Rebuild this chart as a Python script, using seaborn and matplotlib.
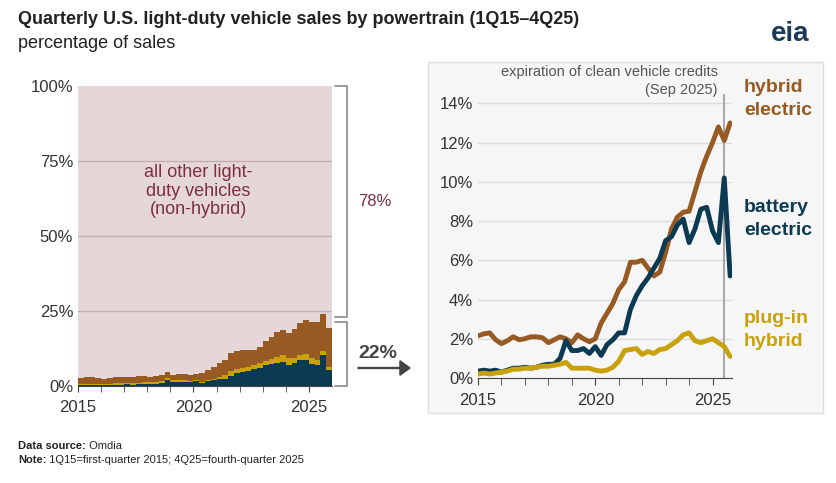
import numpy as np
import pandas as pd
import matplotlib
matplotlib.use("Agg")
import matplotlib.pyplot as plt
from matplotlib.patches import Rectangle
import seaborn as sns

sns.set_style("white")
plt.rcParams['font.family'] = ['Liberation Sans', 'DejaVu Sans']

# quarterly shares (%), 1Q15-4Q25
hybrid = [2.15, 2.25, 2.3, 1.95, 1.75, 1.9, 2.1, 1.95, 2.0, 2.1, 2.1, 2.05,
          1.8, 1.95, 2.1, 2.0, 1.8, 2.2, 2.0, 1.85, 2.0, 2.8, 3.3, 3.8,
          4.5, 4.9, 5.9, 5.9, 6.0, 5.6, 5.2, 5.4, 6.4, 7.6, 8.2, 8.45,
          8.5, 9.5, 10.5, 11.3, 12.0, 12.8, 12.1, 13.0]
battery = [0.35, 0.4, 0.35, 0.4, 0.3, 0.4, 0.5, 0.5, 0.55, 0.5, 0.55, 0.65,
           0.7, 0.7, 1.0, 1.9, 1.4, 1.4, 1.5, 1.25, 1.6, 1.15, 1.7, 1.95,
           2.3, 2.3, 3.5, 4.2, 4.7, 5.1, 5.6, 6.1, 7.0, 7.2, 7.8, 8.1,
           6.9, 7.6, 8.6, 8.7, 7.5, 6.9, 10.2, 5.2]
plugin = [0.2, 0.25, 0.2, 0.25, 0.3, 0.35, 0.45, 0.45, 0.5, 0.5, 0.55, 0.6,
          0.6, 0.65, 0.7, 0.8, 0.5, 0.5, 0.5, 0.5, 0.4, 0.35, 0.4, 0.55,
          0.85, 1.4, 1.45, 1.5, 1.2, 1.35, 1.25, 1.45, 1.5, 1.7, 1.9, 2.2,
          2.3, 1.9, 1.8, 1.9, 2.0, 1.8, 1.6, 1.1]
quarter = 2015 + np.arange(len(hybrid)) / 4

df = pd.DataFrame({"t": quarter, "hybrid": hybrid, "battery": battery, "plugin": plugin})

C_HEV = "#975a22"
C_BEV = "#0b3a52"
C_PHEV = "#c9a20b"
C_PINK = "#e5d6d8"
C_TXT = "#333333"

W, H = 837, 483
fig = plt.figure(figsize=(W / 100, H / 100), dpi=100)

def ax_px(x0, y0, x1, y1):
    return fig.add_axes([x0 / W, 1 - y1 / H, (x1 - x0) / W, (y1 - y0) / H])

# ---- left stacked chart
ax = ax_px(78, 86, 332, 386)
tt = np.append(df.t.values, 2026)
b = np.append(df.battery.values, df.battery.values[-1])
p = b + np.append(df.plugin.values, df.plugin.values[-1])
h = p + np.append(df.hybrid.values, df.hybrid.values[-1])
ax.fill_between(tt, 0, 100, color=C_PINK, lw=0)
for yv in [25, 50, 75]:
    ax.axhline(yv, color="#c4aeb2", lw=1)
ax.fill_between(tt, p, h, step="post", color=C_HEV, lw=0)
ax.fill_between(tt, b, p, step="post", color=C_PHEV, lw=0)
ax.fill_between(tt, 0, b, step="post", color=C_BEV, lw=0)
ax.set_xlim(2015, 2026)
ax.set_ylim(0, 100)
ax.set_yticks([0, 25, 50, 75, 100], ["0%", "25%", "50%", "75%", "100%"])
ax.set_xticks([2015, 2020, 2025])
ax.set_xticks(range(2016, 2026), minor=True)
ax.tick_params(axis="both", labelsize=12, colors=C_TXT, length=0)
ax.tick_params(axis="x", which="both", direction="out", length=4, color="#444444", bottom=True, pad=6)
for s in ["top", "right", "left"]:
    ax.spines[s].set_visible(False)
ax.spines["bottom"].set_color("#444444")
ax.text(2020.2, 65, "all other light-\nduty vehicles\n(non-hybrid)", ha="center", va="center",
        fontsize=13, color="#7d2f3f", linespacing=1.15)

# brackets
def bracket(y0, y1):
    fig.lines.append(plt.Line2D([335 / W, 347 / W, 347 / W, 335 / W],
                                [1 - y0 / H, 1 - y0 / H, 1 - y1 / H, 1 - y1 / H],
                                color="#888888", lw=1.2, transform=fig.transFigure))
bracket(86, 317)
bracket(322, 386)
fig.text(358 / W, 1 - 202 / H, "78%", color="#7d2f3f", fontsize=12, va="center")
fig.text(358 / W, 1 - 354 / H, "22%", color="#444444", fontsize=14, weight="bold", va="center")
fig.add_artist(matplotlib.patches.FancyArrow(358 / W, 1 - 368 / H, 52 / W, 0, width=0.002,
                                             head_width=0.03, head_length=0.012,
                                             color="#444444", transform=fig.transFigure,
                                             length_includes_head=True))

# ---- right panel
fig.add_artist(Rectangle((428 / W, 1 - 413 / H), 395 / W, 351 / H, transform=fig.transFigure,
                         facecolor="#f6f6f6", edgecolor="#dddddd", lw=1, zorder=0))
ax2 = ax_px(478, 93.5, 732, 378)
ax2.patch.set_alpha(0)
for yv in range(2, 15, 2):
    ax2.axhline(yv, color="#dcdcdc", lw=1, zorder=0)
ax2.axvline(2025.5, color="#999999", lw=1.2, zorder=1)
sns.lineplot(data=df, x="t", y="hybrid", color=C_HEV, lw=3.5, ax=ax2)
sns.lineplot(data=df, x="t", y="battery", color=C_BEV, lw=3.5, ax=ax2)
sns.lineplot(data=df, x="t", y="plugin", color=C_PHEV, lw=3.5, ax=ax2)
ax2.set_xlim(2015, 2025.83)
ax2.set_ylim(0, 14.5)
ax2.set_xlabel("")
ax2.set_ylabel("")
ax2.set_yticks(range(0, 15, 2), [f"{v}%" for v in range(0, 15, 2)])
ax2.set_xticks([2015, 2020, 2025])
ax2.set_xticks(range(2016, 2026), minor=True)
ax2.tick_params(axis="both", labelsize=12, colors=C_TXT, length=0)
ax2.tick_params(axis="x", which="both", direction="out", length=5, color="#444444", bottom=True, pad=6)
for s in ["top", "right", "left"]:
    ax2.spines[s].set_visible(False)
ax2.spines["bottom"].set_color("#444444")
fig.text(718 / W, 1 - 65 / H, "expiration of clean vehicle credits\n(Sep 2025)", ha="right", va="top",
         fontsize=10.5, color="#555555", multialignment="right", linespacing=1.35)

lbl = dict(fontsize=14, weight="bold", va="center", transform=fig.transFigure)
fig.text(744 / W, 1 - 99 / H, "hybrid\nelectric", color=C_HEV, linespacing=1.45, **lbl)
fig.text(744 / W, 1 - 219 / H, "battery\nelectric", color=C_BEV, linespacing=1.45, **lbl)
fig.text(744 / W, 1 - 330 / H, "plug-in\nhybrid", color=C_PHEV, linespacing=1.45, **lbl)

# titles and notes
fig.text(18 / W, 1 - 20 / H, "Quarterly U.S. light-duty vehicle sales by powertrain (1Q15\u20134Q25)",
         fontsize=13, weight="bold", color="#222222", va="center")
fig.text(18 / W, 1 - 44 / H, "percentage of sales", fontsize=13, color="#222222", va="center")
fig.text(790 / W, 1 - 34 / H, "eia", fontsize=20, weight="bold", color="#1b3a5a", va="center", ha="center")

fig.canvas.draw()
r = fig.canvas.get_renderer()
for yy, bold, rest in [(446, "Data source:", " Omdia"),
                       (460, "Note:", " 1Q15=first-quarter 2015; 4Q25=fourth-quarter 2025")]:
    t = fig.text(18 / W, 1 - yy / H, bold, fontsize=8, weight="bold", color="#222222", va="center")
    wpx = t.get_window_extent(r).width
    fig.text((18 + wpx) / W, 1 - yy / H, rest, fontsize=8, color="#222222", va="center")

fig.savefig("out.png", dpi=100)
